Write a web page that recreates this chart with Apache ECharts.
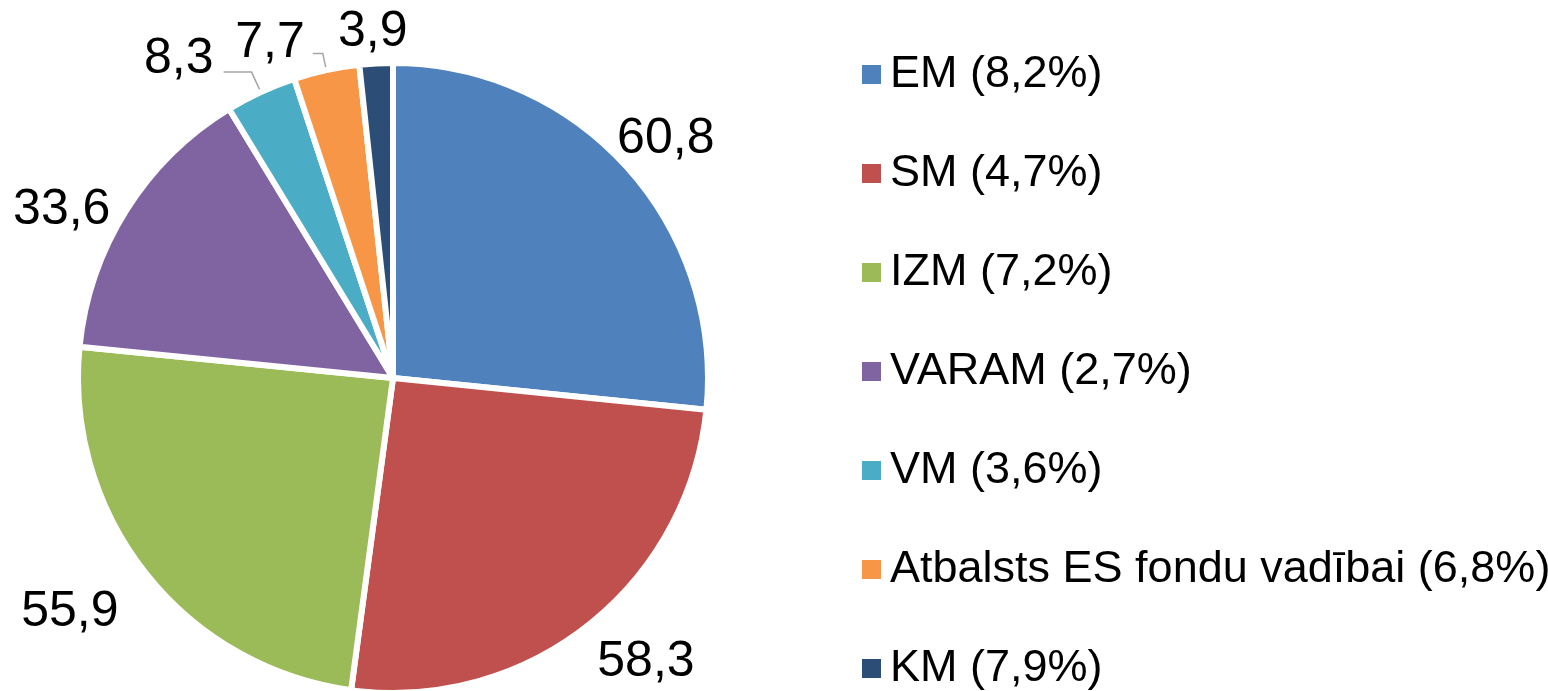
<!DOCTYPE html>
<html>
<head>
<meta charset="utf-8">
<script src="https://cdn.jsdelivr.net/npm/echarts@6/dist/echarts.min.js"></script>
<style>
  html, body { margin: 0; padding: 0; background: #fff; }
  #chart { width: 1548px; height: 691px; }
</style>
</head>
<body>
<div id="chart"></div>
<script>
// ministries, values in the pie, share shown in the legend
const categories = ['EM', 'SM', 'IZM', 'VARAM', 'VM', 'Atbalsts ES fondu vadībai', 'KM'];
const values = [60.8, 58.3, 55.9, 33.6, 8.3, 7.7, 3.9];
const shares = ['8,2%', '4,7%', '7,2%', '2,7%', '3,6%', '6,8%', '7,9%'];
const colors = ['#4F81BD', '#C0504D', '#9BBB59', '#8064A2', '#4BACC6', '#F79646', '#2C4D75'];

// label placement per slice (line lengths, distance, lift above the line end)
const labelTweaks = [
  { line: false, len: 41, len2: 0, dist: -40, lift: 0 },
  { line: false, len: 47, len2: 0, dist: -20, lift: 0 },
  { line: false, len: 63, len2: 0, dist: -22, lift: 0 },
  { line: false, len: 0, len2: 0, dist: 16, lift: 0 },
  { line: true, len: 22, len2: 28, dist: 10, lift: 25 },
  { line: true, len: 17, len2: 10, dist: 8, lift: 20 },
  { line: false, len: 31, len2: 0, dist: -33, lift: 0 }
];

const fmt = v => String(v).replace('.', ',');

const rich = { v: { fontFamily: 'Liberation Sans', fontSize: 50, color: '#000' } };
labelTweaks.forEach((t, i) => {
  if (t.lift) rich['g' + i] = { fontSize: 1, lineHeight: t.lift };
});

const pieData = categories.map((c, i) => ({
  name: c + ' (' + shares[i] + ')',
  value: values[i],
  itemStyle: { color: colors[i] },
  label: { distanceToLabelLine: labelTweaks[i].dist },
  labelLine: {
    show: labelTweaks[i].line,
    length: labelTweaks[i].len,
    length2: labelTweaks[i].len2
  }
}));

const chart = echarts.init(document.getElementById('chart'), null, { renderer: 'canvas' });

chart.setOption({
  animation: false,
  color: colors,
  legend: {
    orient: 'vertical',
    left: 855,
    top: 47,
    height: 680,
    icon: 'rect',
    itemWidth: 21,
    itemHeight: 21,
    itemGap: 54,
    selectedMode: false,
    textStyle: {
      fontFamily: 'Liberation Sans',
      fontSize: 45,
      lineHeight: 44,
      color: '#000',
      padding: [0, 0, 0, 3]
    },
    data: pieData.map(d => d.name)
  },
  series: [{
    type: 'pie',
    center: [393, 378],
    radius: 315,
    startAngle: 90,
    clockwise: true,
    avoidLabelOverlap: false,
    itemStyle: { borderColor: '#fff', borderWidth: 6 },
    label: {
      show: true,
      position: 'outside',
      alignTo: 'none',
      fontFamily: 'Liberation Sans',
      fontSize: 50,
      color: '#000',
      rich: rich,
      formatter: p => {
        const txt = fmt(p.value);
        return labelTweaks[p.dataIndex].lift ? '{v|' + txt + '}\n{g' + p.dataIndex + '| }' : txt;
      }
    },
    labelLine: {
      lineStyle: { color: '#A6A6A6', width: 1.5 },
      smooth: false
    },
    emphasis: { disabled: true },
    data: pieData
  }]
});
</script>
</body>
</html>
